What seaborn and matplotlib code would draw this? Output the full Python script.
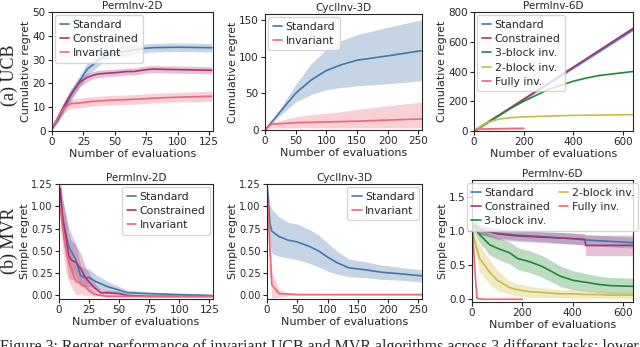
import numpy as np
import pandas as pd
import matplotlib
matplotlib.use("Agg")
import matplotlib.pyplot as plt
import seaborn as sns

sns.set_style("ticks")
plt.rcParams['font.family'] = ['DejaVu Sans']

BLUE = "#4477AA"
PURPLE = "#AA3377"
GREEN = "#228833"
YELLOW = "#CCBB44"
RED = "#EE6677"

# ---------- (a) UCB, PermInv-2D ----------
ucb2_x = [0, 5, 10, 15, 22, 28, 33, 37, 42, 50, 60, 65, 75, 80, 100, 127]
ucb2_std = [1, 5, 10, 15, 21, 26, 28, 30, 31.5, 33, 33.5, 34, 34.8, 35, 35.2, 35]
ucb2_std_sd = [0.5, 1.5, 2, 2.5, 2.5, 2.5, 2.5, 2.5, 2, 2, 2, 2, 1.8, 1.8, 1.8, 1.8]
ucb2_con = [1, 6, 11, 15.5, 20.5, 22.5, 23.5, 24, 24.2, 24.5, 25, 25, 25.8, 26, 25.8, 25.5]
ucb2_con_sd = [0.5, 1.5, 2, 2, 2, 1.8, 1.5, 1.5, 1.5, 1.5, 1.5, 1.5, 1.5, 1.5, 1.5, 1.5]
ucb2_inv = [1, 6, 10, 11.5, 11.8, 12.2, 12.5, 12.6, 12.8, 13, 13.2, 13.3, 13.6, 13.8, 14.2, 14.6]
ucb2_inv_sd = [0.5, 1.5, 2, 2, 2, 2, 2, 2, 2, 2, 2, 2, 2, 2, 2, 2.2]

# ---------- (a) UCB, CyclInv-3D ----------
ucb3_x = [0, 10, 25, 50, 75, 100, 125, 150, 200, 255]
ucb3_std = [0, 10, 25, 50, 68, 81, 89, 95, 101, 108]
ucb3_std_lo = [0, 8, 20, 38, 48, 55, 58, 60, 63, 67]
ucb3_std_hi = [0, 12, 30, 62, 90, 110, 122, 130, 140, 150]
ucb3_inv = [0, 8, 8.5, 10, 10.5, 11, 11.5, 12, 13.5, 15]
ucb3_inv_lo = [0, 3, 3, 3, 3, 3, 3, 3, 3, 3]
ucb3_inv_hi = [0, 11, 13, 18, 21, 23, 25, 28, 33, 38]

# ---------- (a) UCB, PermInv-6D ----------
ucb6_x = [0, 50, 100, 150, 200, 300, 400, 450, 500, 640]
ucb6_std = [0, 52, 105, 158, 212, 318, 424, 477, 530, 680]
ucb6_con = [0, 53, 106, 160, 214, 322, 430, 484, 538, 690]
ucb6_b3 = [0, 52, 104, 155, 200, 280, 335, 355, 372, 400]
ucb6_b2 = [0, 55, 80, 90, 95, 100, 105, 106, 107, 110]
ucb6_full_x = [0, 20, 100, 200]
ucb6_full = [0, 13, 16, 18]

# ---------- (b) MVR, PermInv-2D ----------
mvr2_x = [1, 3, 6, 8, 10, 14, 18, 22, 25, 30, 35, 40, 50, 57, 75, 100, 127]
mvr2_std = [1.15, 0.88, 0.65, 0.55, 0.5, 0.4, 0.22, 0.2, 0.2, 0.16, 0.13, 0.1, 0.06, 0.03, 0.02, 0.01, 0.0]
mvr2_std_sd = [0.15, 0.2, 0.22, 0.22, 0.2, 0.18, 0.12, 0.1, 0.1, 0.08, 0.07, 0.06, 0.04, 0.03, 0.02, 0.01, 0.01]
mvr2_con = [1.2, 0.85, 0.65, 0.45, 0.4, 0.37, 0.3, 0.2, 0.15, 0.08, 0.03, 0.03, 0.02, 0.0, -0.01, -0.01, -0.01]
mvr2_con_sd = [0.1, 0.22, 0.25, 0.25, 0.22, 0.2, 0.18, 0.12, 0.1, 0.06, 0.03, 0.03, 0.03, 0.01, 0.01, 0.01, 0.01]
mvr2_inv = [1.0, 0.75, 0.5, 0.38, 0.3, 0.16, 0.13, 0.1, 0.05, 0.01, 0.0, -0.01, -0.01, -0.01, -0.01, -0.01, -0.01]
mvr2_inv_sd = [0.2, 0.25, 0.25, 0.22, 0.2, 0.15, 0.12, 0.1, 0.05, 0.02, 0.01, 0.01, 0.01, 0.01, 0.01, 0.01, 0.01]

# ---------- (b) MVR, CyclInv-3D ----------
mvr3_x = [0, 5, 8, 20, 35, 50, 70, 85, 100, 115, 135, 160, 190, 225, 255]
mvr3_std = [1.25, 0.8, 0.72, 0.66, 0.62, 0.6, 0.55, 0.5, 0.43, 0.37, 0.31, 0.29, 0.26, 0.24, 0.22]
mvr3_std_sd = [0.05, 0.22, 0.25, 0.22, 0.2, 0.2, 0.19, 0.18, 0.16, 0.13, 0.1, 0.09, 0.08, 0.07, 0.07]
mvr3_inv = [1.2, 0.5, 0.12, 0.02, 0.015, 0.01, 0.01, 0.01, 0.01, 0.01, 0.01, 0.01, 0.01, 0.01, 0.01]
mvr3_inv_sd = [0.05, 0.3, 0.15, 0.04, 0.02, 0.01, 0.01, 0.01, 0.01, 0.01, 0.01, 0.01, 0.01, 0.01, 0.01]

# ---------- (b) MVR, PermInv-6D ----------
mvr6_x = [0, 30, 70, 100, 150, 180, 230, 280, 350, 400, 449, 452, 500, 550, 640]
mvr6_std = [1.1, 1.02, 0.99, 0.97, 0.95, 0.94, 0.93, 0.92, 0.9, 0.89, 0.87, 0.87, 0.86, 0.85, 0.83]
mvr6_std_sd = [0.06, 0.07, 0.07, 0.07, 0.07, 0.07, 0.07, 0.07, 0.08, 0.08, 0.08, 0.08, 0.08, 0.08, 0.08]
mvr6_con = [1.12, 1.03, 0.99, 0.96, 0.94, 0.93, 0.92, 0.91, 0.9, 0.89, 0.88, 0.79, 0.79, 0.79, 0.79]
mvr6_con_sd = [0.06, 0.07, 0.07, 0.08, 0.08, 0.08, 0.08, 0.08, 0.08, 0.08, 0.08, 0.15, 0.15, 0.15, 0.15]
mvr6_b3 = [1.1, 0.95, 0.8, 0.75, 0.68, 0.6, 0.55, 0.48, 0.34, 0.28, 0.25, 0.25, 0.22, 0.2, 0.19]
mvr6_b3_sd = [0.05, 0.12, 0.15, 0.16, 0.16, 0.16, 0.16, 0.16, 0.15, 0.14, 0.13, 0.13, 0.12, 0.12, 0.12]
mvr6_b2 = [1.0, 0.6, 0.4, 0.28, 0.17, 0.14, 0.11, 0.1, 0.08, 0.08, 0.07, 0.07, 0.07, 0.06, 0.06]
mvr6_b2_sd = [0.05, 0.2, 0.18, 0.15, 0.1, 0.09, 0.08, 0.07, 0.06, 0.06, 0.06, 0.06, 0.05, 0.05, 0.05]
mvr6_full_x = [0, 10, 20, 50, 100, 200]
mvr6_full = [1.2, 0.5, 0.01, 0.0, 0.0, 0.0]

FS = 7.5
LEG = dict(fontsize=FS + 0.3, handlelength=0.9, handletextpad=0.3, borderpad=0.4,
           labelspacing=0.4, borderaxespad=0.3)


def draw(ax, x, y, color, label, lo=None, hi=None, lw=1.2):
    sns.lineplot(x=x, y=y, ax=ax, color=color, label=label, lw=lw)
    if lo is not None:
        ax.fill_between(x, lo, hi, color=color, alpha=0.3, lw=0)


def band(y, sd):
    y = np.asarray(y, float)
    sd = np.asarray(sd, float)
    return y - sd, y + sd


fig = plt.figure(figsize=(6.4, 3.47), dpi=100)
W, H = 640, 347


def add_ax(l, r, t, b):
    return fig.add_axes([l / W, 1 - b / H, (r - l) / W, (b - t) / H])


ax1 = add_ax(52, 213, 12, 131)
ax2 = add_ax(265, 422, 14, 130)
ax3 = add_ax(474, 633, 12, 131)
ax4 = add_ax(59, 213, 184, 299)
ax5 = add_ax(267, 422, 184, 299)
ax6 = add_ax(472, 633, 180, 302)

# panel 1
lo, hi = band(ucb2_std, ucb2_std_sd)
draw(ax1, ucb2_x, ucb2_std, BLUE, "Standard", lo, hi)
lo, hi = band(ucb2_con, ucb2_con_sd)
draw(ax1, ucb2_x, ucb2_con, PURPLE, "Constrained", lo, hi)
lo, hi = band(ucb2_inv, ucb2_inv_sd)
draw(ax1, ucb2_x, ucb2_inv, RED, "Invariant", lo, hi)
ax1.set_xlim(0, 128)
ax1.set_ylim(0, 50)
ax1.set_xticks([0, 25, 50, 75, 100, 125])
ax1.set_ylabel("Cumulative regret")
ax1.set_title("PermInv-2D")
ax1.legend(loc="upper left", **LEG)

# panel 2
draw(ax2, ucb3_x, ucb3_std, BLUE, "Standard", ucb3_std_lo, ucb3_std_hi)
draw(ax2, ucb3_x, ucb3_inv, RED, "Invariant", ucb3_inv_lo, ucb3_inv_hi)
ax2.set_xlim(0, 256)
ax2.set_ylim(0, 158)
ax2.set_xticks([0, 50, 100, 150, 200, 250])
ax2.set_yticks([0, 50, 100, 150])
ax2.set_ylabel("Cumulative regret")
ax2.set_title("CyclInv-3D")
ax2.legend(loc="upper left", **LEG)

# panel 3
draw(ax3, ucb6_x, ucb6_std, BLUE, "Standard", np.array(ucb6_std) - 8, np.array(ucb6_std) + 8)
draw(ax3, ucb6_x, ucb6_con, PURPLE, "Constrained")
draw(ax3, ucb6_x, ucb6_b3, GREEN, "3-block inv.")
draw(ax3, ucb6_x, ucb6_b2, YELLOW, "2-block inv.")
draw(ax3, ucb6_full_x, ucb6_full, RED, "Fully inv.",
     np.array(ucb6_full) - 7, np.array(ucb6_full) + 7)
ax3.set_xlim(0, 640)
ax3.set_ylim(0, 800)
ax3.set_xticks([0, 200, 400, 600])
ax3.set_yticks([0, 200, 400, 600, 800])
ax3.set_ylabel("Cumulative regret")
ax3.set_title("PermInv-6D")
ax3.legend(loc="upper left", **LEG)

# panel 4
lo, hi = band(mvr2_std, mvr2_std_sd)
draw(ax4, mvr2_x, mvr2_std, BLUE, "Standard", lo, hi)
lo, hi = band(mvr2_con, mvr2_con_sd)
draw(ax4, mvr2_x, mvr2_con, PURPLE, "Constrained", lo, hi)
lo, hi = band(mvr2_inv, mvr2_inv_sd)
draw(ax4, mvr2_x, mvr2_inv, RED, "Invariant", lo, hi)
ax4.set_xlim(0, 128)
ax4.set_ylim(-0.04, 1.25)
ax4.set_xticks([0, 25, 50, 75, 100, 125])
ax4.set_yticks([0, 0.25, 0.5, 0.75, 1.0, 1.25])
ax4.set_ylabel("Simple regret")
ax4.set_title("PermInv-2D")
ax4.legend(loc="upper right", **LEG)

# panel 5
lo, hi = band(mvr3_std, mvr3_std_sd)
draw(ax5, mvr3_x, mvr3_std, BLUE, "Standard", lo, hi)
lo, hi = band(mvr3_inv, mvr3_inv_sd)
draw(ax5, mvr3_x, mvr3_inv, RED, "Invariant", lo, hi)
ax5.set_xlim(0, 256)
ax5.set_ylim(-0.04, 1.25)
ax5.set_xticks([0, 50, 100, 150, 200, 250])
ax5.set_yticks([0, 0.25, 0.5, 0.75, 1.0, 1.25])
ax5.set_ylabel("Simple regret")
ax5.set_title("CyclInv-3D")
ax5.legend(loc="upper right", **LEG)

# panel 6
lo, hi = band(mvr6_std, mvr6_std_sd)
draw(ax6, mvr6_x, mvr6_std, BLUE, "Standard", lo, hi)
lo, hi = band(mvr6_con, mvr6_con_sd)
draw(ax6, mvr6_x, mvr6_con, PURPLE, "Constrained", lo, hi)
lo, hi = band(mvr6_b3, mvr6_b3_sd)
draw(ax6, mvr6_x, mvr6_b3, GREEN, "3-block inv.", lo, hi)
lo, hi = band(mvr6_b2, mvr6_b2_sd)
draw(ax6, mvr6_x, mvr6_b2, YELLOW, "2-block inv.", lo, hi)
draw(ax6, mvr6_full_x, mvr6_full, RED, "Fully inv.")
ax6.set_xlim(0, 640)
ax6.set_ylim(-0.04, 1.75)
ax6.set_xticks([0, 200, 400, 600])
ax6.set_yticks([0, 0.5, 1.0, 1.5])
ax6.set_ylabel("Simple regret")
ax6.set_title("PermInv-6D")
ax6.legend(loc="upper center", ncol=2, columnspacing=0.8, **LEG)

for ax in [ax1, ax2, ax3, ax4, ax5, ax6]:
    ax.set_xlabel("Number of evaluations", fontsize=FS + 0.5, labelpad=1)
    ax.set_ylabel(ax.get_ylabel(), fontsize=FS + 0.5, labelpad=1)
    ax.set_title(ax.get_title(), fontsize=FS, pad=2)
    ax.tick_params(labelsize=FS, length=3, pad=1.5)
ax4.tick_params(axis="y", labelsize=FS - 0.5)
ax5.tick_params(axis="y", labelsize=FS - 0.5)

fig.text(9 / W, 1 - 75 / H, "(a) UCB", rotation=90, family="Liberation Serif",
         fontsize=13, ha="center", va="center")
fig.text(9 / W, 1 - 241 / H, "(b) MVR", rotation=90, family="Liberation Serif",
         fontsize=13, ha="center", va="center")
fig.text(0.0, 1 - 339 / H,
         "Figure 3: Regret performance of invariant UCB and MVR algorithms across 3 different tasks; lower",
         family="Liberation Serif", fontsize=11.5, ha="left", va="top")

fig.savefig("out.png", dpi=100)
